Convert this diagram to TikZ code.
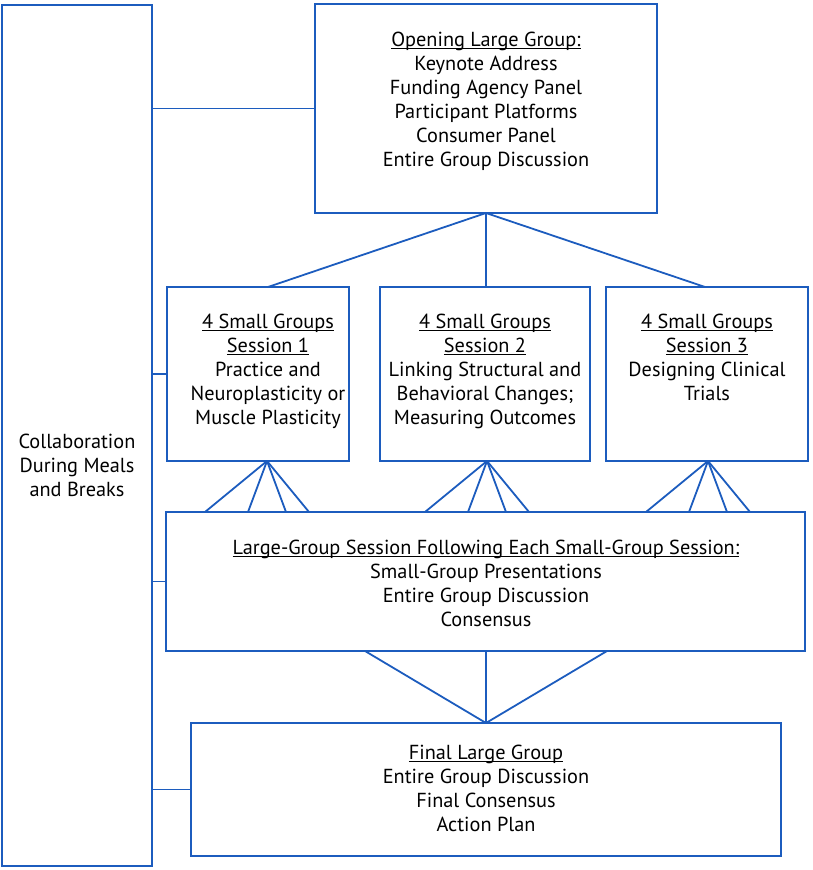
\documentclass[tikz,border=0pt]{standalone}
\usepackage{fontspec}
\setmainfont{PT Sans}
\usetikzlibrary{calc}
\definecolor{lineblue}{RGB}{28,92,190}
\newcommand\myul[1]{\setbox0\hbox{#1}\rlap{\rule[-2.4pt]{\wd0}{0.9pt}}\box0}
\newcommand\txtblock[1]{\begin{tabular}[t]{@{}c@{}}#1\end{tabular}}
\begin{document}
\begin{tikzpicture}[x=1pt,y=-1pt,
  box/.style={draw=lineblue, line width=2.6pt, inner sep=0pt, outer sep=0pt, anchor=north west},
  conn/.style={draw=lineblue, line width=1.8pt},
  txt/.style={inner sep=0pt, anchor=base, font=\fontsize{20.3}{24}\selectfont}]
\useasboundingbox (0,0) rectangle (812,870);
% boxes
\node[box, minimum width=150pt, minimum height=861pt] (lb) at (2,5) {};
\node[box, minimum width=342pt, minimum height=209pt] (open) at (315,4) {};
\node[box, minimum width=182pt, minimum height=174pt] (b1) at (167,287) {};
\node[box, minimum width=210pt, minimum height=174pt] (b2) at (380,287) {};
\node[box, minimum width=202pt, minimum height=174pt] (b3) at (606,287) {};
\node[box, minimum width=639pt, minimum height=139pt] (ls) at (166,512) {};
\node[box, minimum width=590pt, minimum height=133pt] (fin) at (191,723) {};
% texts
\node[txt] (lb-t) at (77,448) {\txtblock{Collaboration\\During Meals\\and Breaks}};
\node[txt] (open-t) at (486,46) {\txtblock{\myul{Opening Large Group:}\\Keynote Address\\Funding Agency Panel\\Participant Platforms\\Consumer Panel\\Entire Group Discussion}};
\node[txt] (b1-t) at (268,328) {\txtblock{\myul{4 Small Groups}\\\myul{Session 1}\\Practice and\\Neuroplasticity or\\Muscle Plasticity}};
\node[txt] (b2-t) at (485,328) {\txtblock{\myul{4 Small Groups}\\\myul{Session 2}\\Linking Structural and\\Behavioral Changes;\\Measuring Outcomes}};
\node[txt] (b3-t) at (707,328) {\txtblock{\myul{4 Small Groups}\\\myul{Session 3}\\Designing Clinical\\Trials}};
\node[txt] (ls-t) at (486,554) {\txtblock{\myul{Large-Group Session Following Each Small-Group Session:}\\Small-Group Presentations\\Entire Group Discussion\\Consensus}};
\node[txt] (fin-t) at (486,759) {\txtblock{\myul{Final Large Group}\\Entire Group Discussion\\Final Consensus\\Action Plan}};
% left connectors
\draw[conn] (open.west) -- (open.west -| lb.east);
\draw[conn] (b1.west) -- (b1.west -| lb.east);
\draw[conn] (ls.west) -- (ls.west -| lb.east);
\draw[conn] (fin.west) -- (fin.west -| lb.east);
% opening to small groups
\draw[conn] (open.south) -- ([xshift=10pt]b1.north);
\draw[conn] (open.south) -- (open.south |- b2.north);
\draw[conn] (open.south) -- ([xshift=-2pt]b3.north);
% fans
\foreach \b/\dx in {b1/9, b2/2, b3/1} {
  \coordinate (\b-a) at ([xshift=\dx pt]\b.south);
  \foreach \o in {-62,-19,19,42}
    \draw[conn] (\b-a) -- ($(\b-a |- ls.north)+(\o,0)$);
}
% to final
\draw[conn] ($(fin.north |- ls.south)+(-121,0)$) -- (fin.north);
\draw[conn] (fin.north |- ls.south) -- (fin.north);
\draw[conn] ($(fin.north |- ls.south)+(121,0)$) -- (fin.north);
\end{tikzpicture}
\end{document}
